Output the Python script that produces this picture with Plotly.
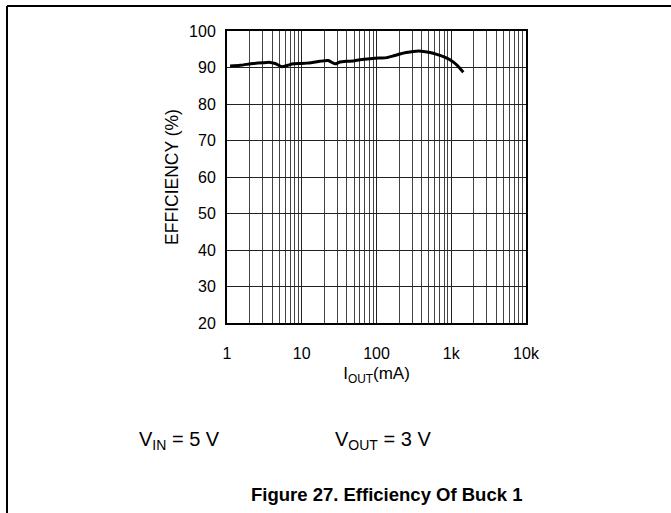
import plotly.graph_objects as go

# Data
iout_ma = [1.1, 1.5, 2.25, 3.0, 3.76, 4.4, 5.4, 6.5, 7.7, 9.5, 11.6, 14.0, 17.5, 22.6, 27.9,
           32.4, 40, 49, 60, 82, 110, 137, 170, 206, 250, 310, 370, 424, 520, 640, 800, 960, 1200, 1450]
efficiency = [90.4, 90.6, 91.1, 91.3, 91.4, 91.1, 90.2, 90.6, 91.0, 91.1, 91.2, 91.4, 91.7, 91.9, 91.0,
              91.5, 91.7, 91.8, 92.1, 92.4, 92.6, 92.7, 93.2, 93.7, 94.1, 94.4, 94.5, 94.4, 94.1, 93.6, 92.9, 92.1, 90.6, 88.7]

x_tickvals = [1, 10, 100, 1000, 10000]
x_ticktext = ["1", "10", "100", "1k", "10k"]
y_tickvals = [20, 30, 40, 50, 60, 70, 80, 90, 100]

W, H = 671, 513
L, R, T, B = 227, 526, 31, 323
pw, ph = R - L, B - T


def px(x):
    return (x - L) / pw


def py(y):
    return (B - y) / ph


FONT = "Liberation Sans, Arial, sans-serif"

fig = go.Figure()
fig.add_trace(go.Scatter(x=iout_ma, y=efficiency, mode="lines",
                         line=dict(color="black", width=3, shape="spline", smoothing=0.6),
                         showlegend=False, hoverinfo="skip"))

fig.update_xaxes(type="log", range=[0, 4], tickvals=x_tickvals, ticktext=x_ticktext,
                 showgrid=True, gridcolor="#222", gridwidth=1,
                 minor=dict(showgrid=True, gridcolor="#444", gridwidth=1,
                            tickvals=[m * 10 ** d for d in range(4) for m in range(2, 10)]),
                 showline=True, linecolor="black", linewidth=2, mirror=True,
                 ticks="", ticklabelstandoff=15,
                 tickfont=dict(family=FONT, size=16, color="black"),
                 title=dict(text="I<sub>OUT</sub>(mA)", font=dict(family=FONT, size=17, color="black"),
                            standoff=6),
                 zeroline=False)
fig.update_yaxes(range=[20, 100], tickvals=y_tickvals,
                 showgrid=True, gridcolor="#222", gridwidth=1,
                 showline=True, linecolor="black", linewidth=2, mirror=True,
                 ticks="", ticklabelstandoff=6,
                 tickfont=dict(family=FONT, size=16, color="black"),
                 title=dict(text="EFFICIENCY (%)", font=dict(family=FONT, size=17.5, color="black"),
                            standoff=6),
                 zeroline=False)

fig.update_layout(
    width=W, height=H,
    margin=dict(l=L, r=W - R, t=T, b=H - B),
    plot_bgcolor="white", paper_bgcolor="white",
    shapes=[
        dict(type="line", xref="paper", yref="paper", x0=px(7), x1=px(W + 5), y0=py(6), y1=py(6),
             line=dict(color="black", width=2)),
        dict(type="line", xref="paper", yref="paper", x0=px(7), x1=px(7), y0=py(6), y1=py(H + 5),
             line=dict(color="black", width=2)),
    ],
    annotations=[
        dict(text="V<sub>IN</sub> = 5 V", xref="paper", yref="paper", x=px(137), y=py(440),
             xanchor="left", yanchor="middle", showarrow=False,
             font=dict(family=FONT, size=20, color="black")),
        dict(text="V<sub>OUT</sub> = 3 V", xref="paper", yref="paper", x=px(333), y=py(440),
             xanchor="left", yanchor="middle", showarrow=False,
             font=dict(family=FONT, size=20, color="black")),
        dict(text="<b>Figure 27. Efficiency Of Buck 1</b>", xref="paper", yref="paper",
             x=px(386), y=py(494), xanchor="center", yanchor="middle", showarrow=False,
             font=dict(family=FONT, size=18.5, color="black")),
    ],
)

fig.write_html("out.html", config={"displayModeBar": False},
               post_script="document.body.style.margin='0';document.body.style.padding='0';")
